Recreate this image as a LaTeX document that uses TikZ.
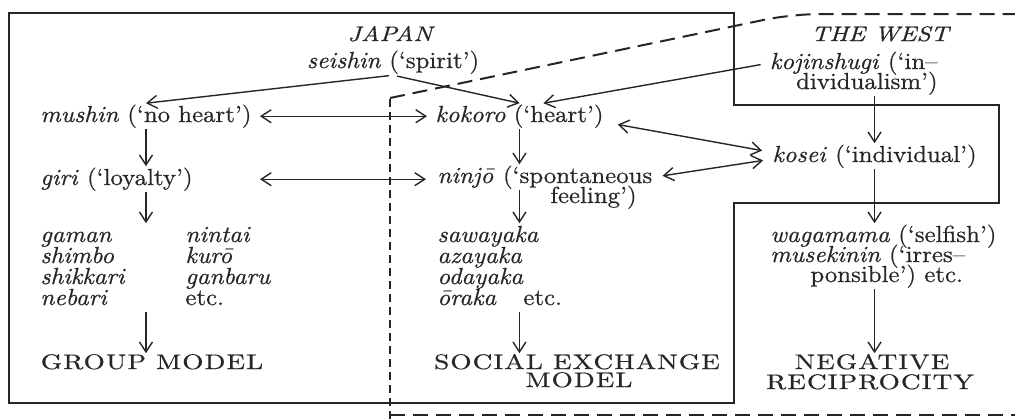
\documentclass[tikz,border=0pt]{standalone}
\usepackage{fontspec}
\setmainfont{lmroman10-regular.otf}[ItalicFont=lmroman10-italic.otf, FakeStretch=1.07, FakeBold=0.6]
\newfontfamily\capsf{lmroman10-regular.otf}[FakeStretch=1.3, LetterSpace=5, FakeBold=0.6]
\newfontfamily\headf{lmroman10-regular.otf}[ItalicFont=lmroman10-italic.otf, FakeStretch=1.2, FakeBold=0.6]
\usetikzlibrary{arrows.meta}
\tikzset{
  ink/.style={color=black!85},
  txt/.style={ink, inner sep=0.5pt, text height=8.7pt, text depth=2.9pt, anchor=base west,
    font=\fontsize{11.6}{13}\selectfont},
  captxt/.style={ink, inner sep=0.5pt, text height=7.2pt, text depth=0pt, anchor=base,
    font=\capsf\fontsize{10.5}{12}\selectfont},
  headtxt/.style={ink, inner sep=0.5pt, anchor=base, font=\headf\itshape\fontsize{10.5}{12}\selectfont},
  arr/.style={ink, line width=0.7pt, -{Straight Barb[length=5pt,width=6.5pt]}},
  darr/.style={ink, line width=0.7pt, {Straight Barb[length=5pt,width=6.5pt]}-{Straight Barb[length=5pt,width=6.5pt]}},
  frameline/.style={ink, line width=1.3pt},
  dline/.style={ink, line width=1pt, dash pattern=on 7.5pt off 4pt},
  vdline/.style={ink, line width=1pt, dash pattern=on 4pt off 2.5pt},
}
\begin{document}
\begin{tikzpicture}[x=0.5pt,y=-0.5pt]
\fill[white] (0,0) rectangle (1015,419);
\useasboundingbox (0,0) rectangle (1015,419);

% outlines
\draw[frameline] (9,13) -- (734,13) -- (734,105) -- (999,105) -- (999,203) -- (734,203) -- (734,403) -- (9,403) -- cycle;
\draw[vdline] (390,419) -- (390,98);
\draw[dline, rounded corners=14pt] (390,98) -- (792,14) -- (1016,14);
\draw[dline] (390,415) -- (1016,415);

% headings
\node[headtxt] (japan) at (390,41) {JAPAN};
\node[headtxt] (west) at (880,41) {THE WEST};

% Japan, left column
\node[txt, anchor=base] (seishin) at (393,68) {\textit{seishin} (‘spirit’)};
\node[txt] (mushin) at (39,122) {\textit{mushin} (‘no heart’)};
\node[txt] (giri) at (39,185) {\textit{giri} (‘loyalty’)};
\node[txt] (gaman) at (39,242) {\textit{gaman}};
\node[txt] (shimbo) at (39,263) {\textit{shimbo}};
\node[txt] (shikkari) at (39,284) {\textit{shikkari}};
\node[txt] (nebari) at (39,305) {\textit{nebari}};
\node[txt] (nintai) at (184,242) {\textit{nintai}};
\node[txt] (kuro) at (184,263) {\textit{kurō}};
\node[txt] (ganbaru) at (184,284) {\textit{ganbaru}};
\node[txt] (etcA) at (184,305) {etc.};
\node[captxt] (group) at (152,369) {GROUP MODEL};

% middle column
\node[txt] (kokoro) at (434,122) {\textit{kokoro} (‘heart’)};
\node[txt] (ninjo) at (436,183) {\textit{ninjō} (‘spontaneous};
\node[txt] (feeling) at (549,203) {feeling’)};
\node[txt] (saw) at (436,242) {\textit{sawayaka}};
\node[txt] (aza) at (436,263) {\textit{azayaka}};
\node[txt] (oda) at (436,284) {\textit{odayaka}};
\node[txt] (oraka) at (436,305) {\textit{ōraka}};
\node[txt] (etcB) at (522,305) {etc.};
\node[captxt] (social) at (577,369) {SOCIAL EXCHANGE};
\node[captxt] (model) at (579,387) {MODEL};

% the West
\node[txt, anchor=base east] (koji1) at (939,69) {\textit{kojinshugi} (‘in–};
\node[txt, anchor=base east] (koji2) at (939,89) {dividualism’)};
\node[txt] (kosei) at (771,162) {\textit{kosei} (‘individual’)};
\node[txt] (waga) at (769,242) {\textit{wagamama} (‘selfish’)};
\node[txt] (muse) at (769,262) {\textit{musekinin} (‘irres–};
\node[txt] (pons) at (809,282) {ponsible’) etc.};
\node[captxt] (neg) at (872,369) {NEGATIVE};
\node[captxt] (reci) at (870,389) {RECIPROCITY};

% connectors
\draw[arr, shorten <=2pt] (seishin.south) -- (mushin.north);
\draw[arr, shorten <=2pt] (seishin.south) -- (kokoro.north);
\draw[arr, shorten <=4pt] (koji1.west) -- ([xshift=12pt]kokoro.north);
\draw[darr, shorten <=3.5pt, shorten >=3.5pt] (mushin.east) -- (kokoro.west);
\draw[darr, shorten <=33pt, shorten >=5pt] (giri.east) -- (giri.east -| ninjo.west);
\draw[darr, shorten <=6.5pt, shorten >=4.5pt] ([yshift=-3pt]kokoro.east) -- ([yshift=2pt]kosei.west);
\draw[darr, shorten <=4.5pt, shorten >=4pt] (ninjo.east) -- ([yshift=-1.5pt]kosei.west);

\draw[arr] (mushin.south) -- (giri.north -| mushin.south);
\draw[arr] (giri.south -| mushin.south) -- (gaman.north -| mushin.south);
\draw[arr] (nebari.south -| mushin.south) -- (group.north -| mushin.south);

\draw[arr] (kokoro.south) -- (ninjo.north -| kokoro.south);
\draw[arr] (ninjo.south -| kokoro.south) -- (saw.north -| kokoro.south);
\draw[arr] (oraka.south -| kokoro.south) -- (social.north -| kokoro.south);

\draw[arr] (koji2.south -| kosei.north) -- (kosei.north);
\draw[arr] (kosei.south) -- (waga.north -| kosei.south);
\draw[arr] (pons.south -| kosei.south) -- (neg.north -| kosei.south);
\end{tikzpicture}
\end{document}
